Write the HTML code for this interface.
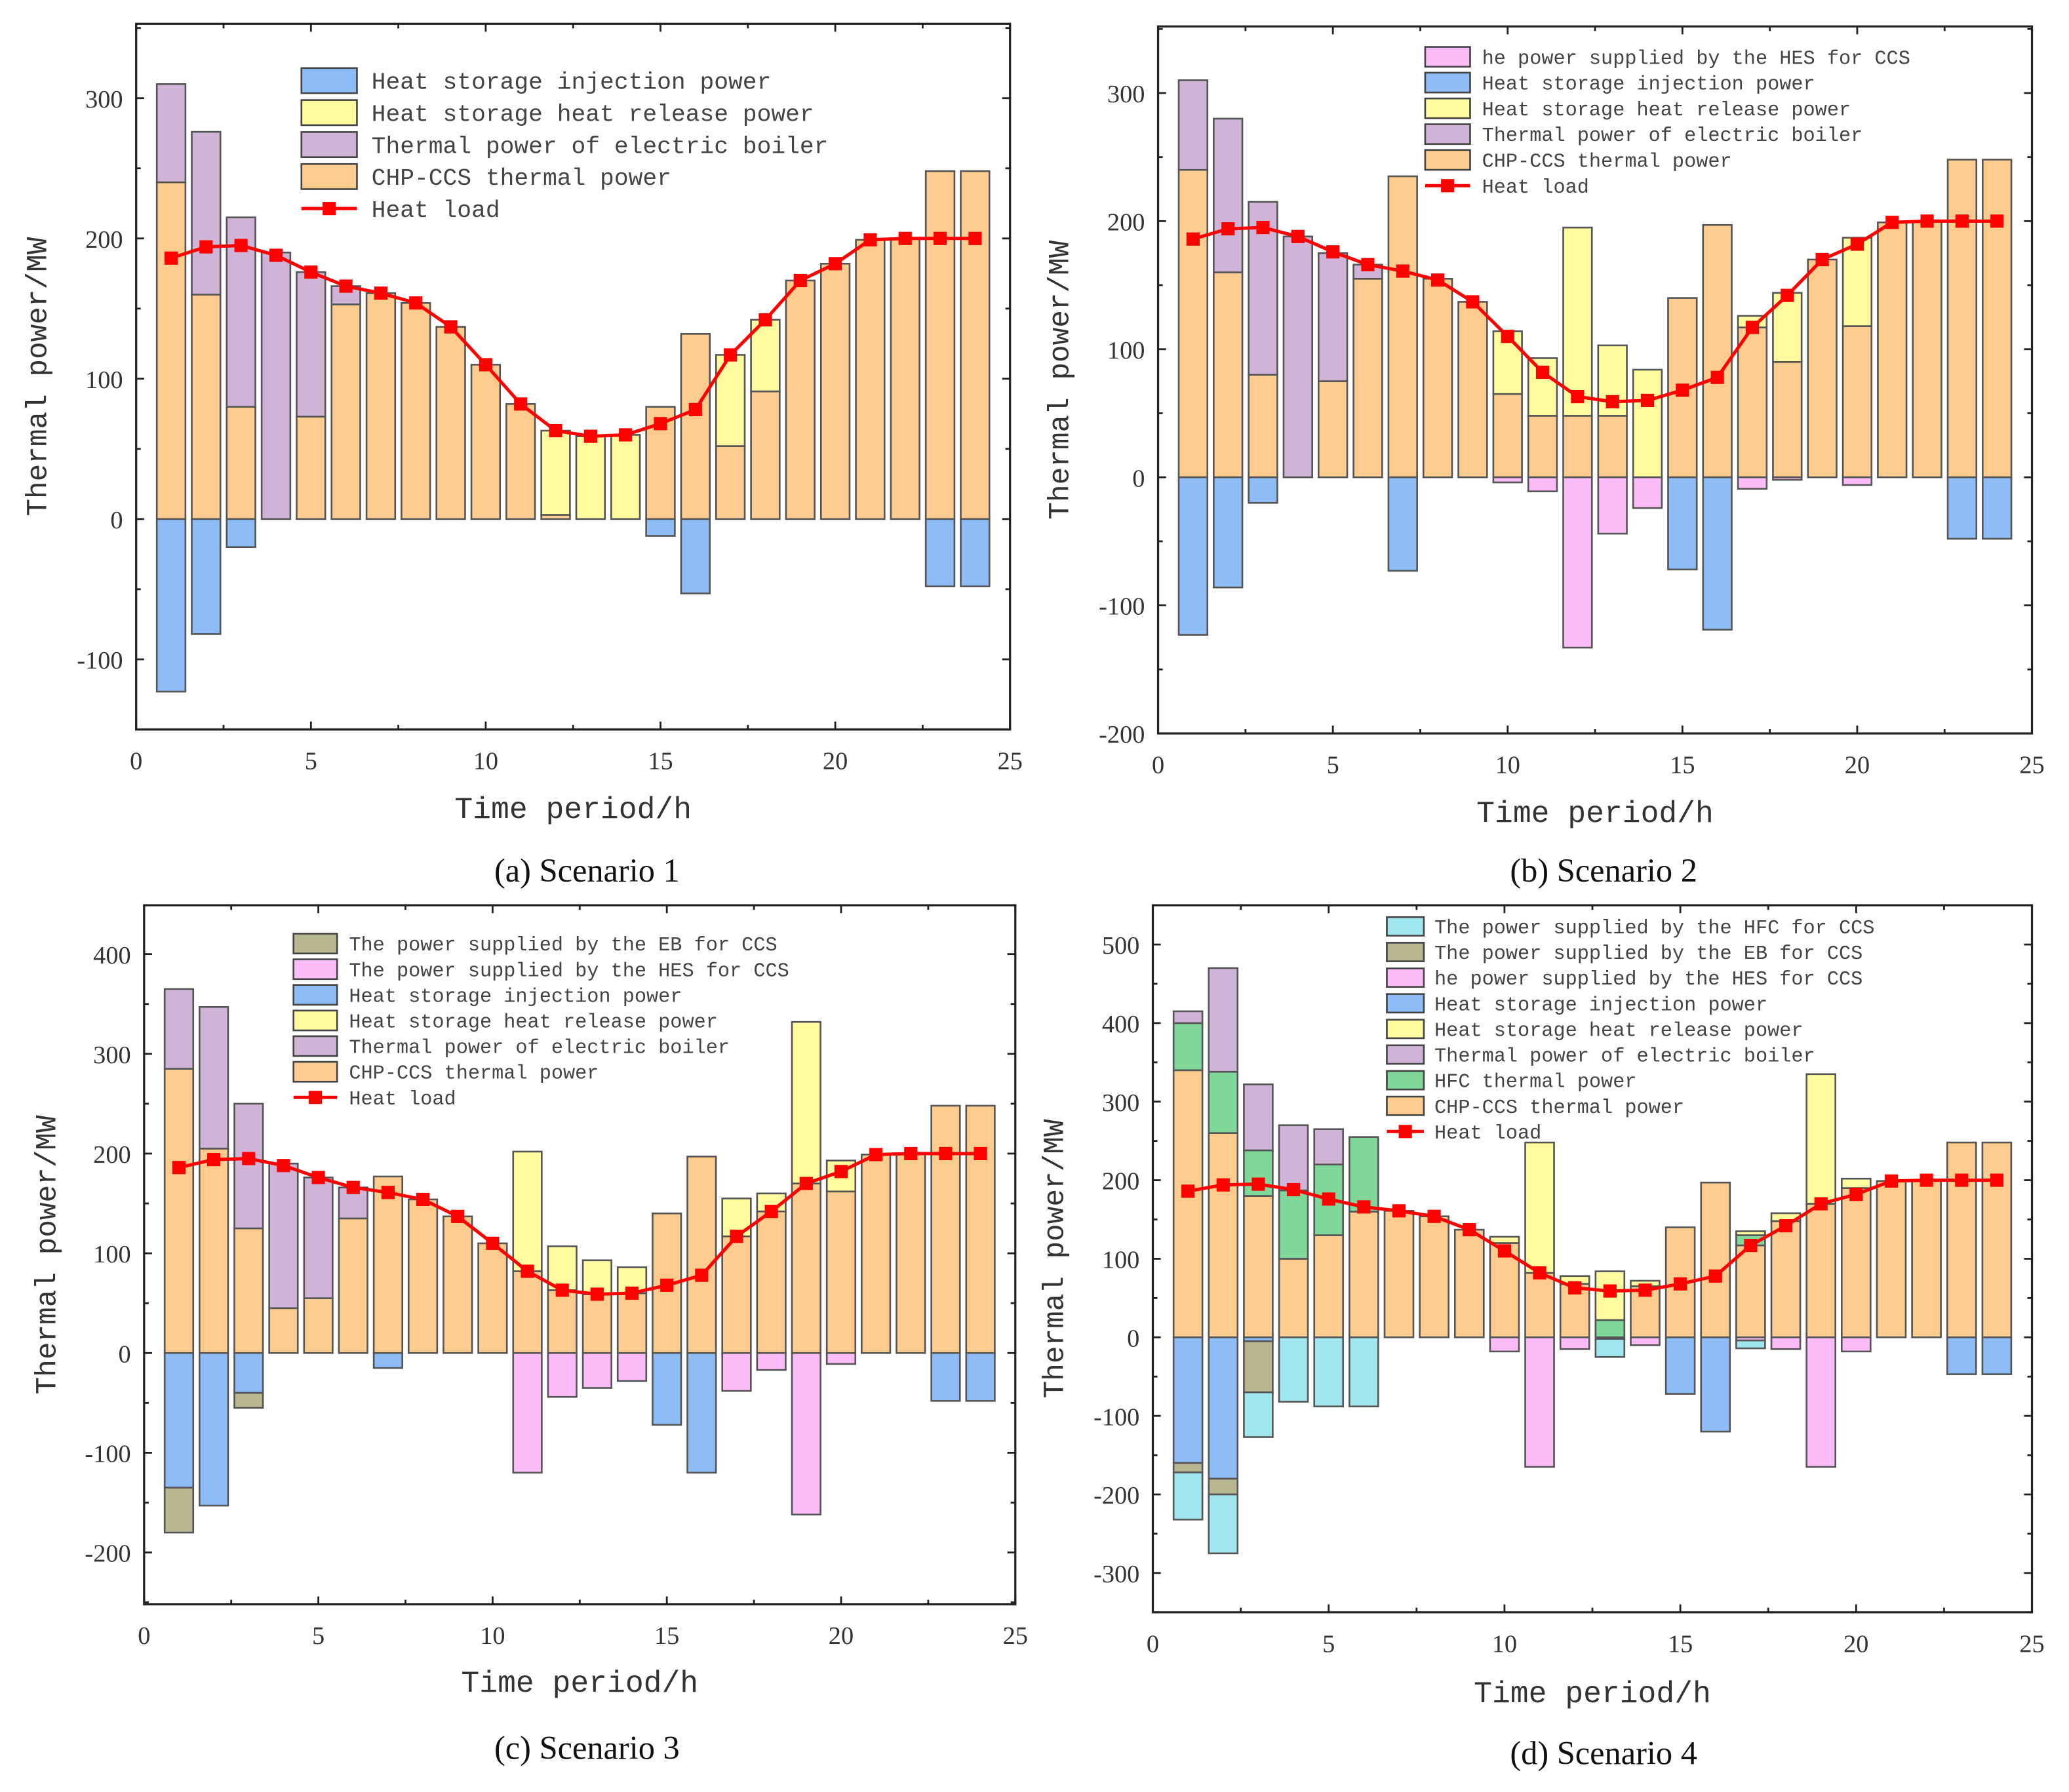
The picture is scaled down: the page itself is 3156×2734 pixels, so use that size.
<!DOCTYPE html>
<html><head><meta charset="utf-8">
<style>html,body{margin:0;padding:0;background:#fff}svg{display:block}</style>
</head><body>
<svg id="fig" xmlns="http://www.w3.org/2000/svg" width="3156" height="2734" viewBox="0 0 1565 1356" preserveAspectRatio="none"></svg>
<script>
// ---- data ----
const hours = [1,2,3,4,5,6,7,8,9,10,11,12,13,14,15,16,17,18,19,20,21,22,23,24];
const heatLoad = [186,194,195,188,176,166,161,154,137,110,82,63,59,60,68,78,117,142,170,182,199,200,200,200];
const xTicks = [0,5,10,15,20,25];

const s1_chp = [240,160,80,0,73,153,161,154,137,110,82,3,0,0,80,132,52,91,170,182,199,200,248,248];
const s1_eb  = [70,116,135,190,103,13,0,0,0,0,0,0,0,0,0,0,0,0,0,0,0,0,0,0];
const s1_rel = [0,0,0,0,0,0,0,0,0,0,0,60,59,60,0,0,65,51,0,0,0,0,0,0];
const s1_inj = [-123,-82,-20,0,0,0,0,0,0,0,0,0,0,0,-12,-53,0,0,0,0,0,0,-48,-48];
const s1_yTicks = [-100,0,100,200,300];

const s2_chp = [240,160,80,0,75,155,235,155,137,65,48,48,48,0,140,197,117,90,170,118,199,200,248,248];
const s2_eb  = [70,120,135,188,100,11,0,0,0,0,0,0,0,0,0,0,0,0,0,0,0,0,0,0];
const s2_rel = [0,0,0,0,0,0,0,0,0,49,45,147,55,84,0,0,9,54,0,69,0,0,0,0];
const s2_inj = [-123,-86,-20,0,0,0,-73,0,0,0,0,0,0,0,-72,-119,0,0,0,0,0,0,-48,-48];
const s2_hes = [0,0,0,0,0,0,0,0,0,-4,-11,-133,-44,-24,0,0,-9,-2,0,-6,0,0,0,0];
const s2_yTicks = [-200,-100,0,100,200,300];

const s3_chp = [285,205,125,45,55,135,177,154,137,110,82,63,59,60,140,197,117,142,170,162,199,200,248,248];
const s3_eb  = [80,142,125,145,121,31,0,0,0,0,0,0,0,0,0,0,0,0,0,0,0,0,0,0];
const s3_rel = [0,0,0,0,0,0,0,0,0,0,120,44,34,26,0,0,38,18,162,31,0,0,0,0];
const s3_inj = [-135,-153,-40,0,0,0,-15,0,0,0,0,0,0,0,-72,-120,0,0,0,0,0,0,-48,-48];
const s3_ebccs = [-45,0,-15,0,0,0,0,0,0,0,0,0,0,0,0,0,0,0,0,0,0,0,0,0];
const s3_hes = [0,0,0,0,0,0,0,0,0,0,-120,-44,-35,-28,0,0,-38,-17,-162,-11,0,0,0,0];
const s3_yTicks = [-200,-100,0,100,200,300,400];

const s4_chp = [340,260,180,100,130,160,161,154,137,120,82,68,0,65,140,197,117,148,170,190,199,200,248,248];
const s4_hfc = [60,78,58,87,90,95,0,0,0,0,0,0,22,0,0,0,13,0,0,0,0,0,0,0];
const s4_eb  = [15,132,84,83,45,0,0,0,0,0,0,0,0,0,0,0,0,0,0,0,0,0,0,0];
const s4_rel = [0,0,0,0,0,0,0,0,0,8,166,10,62,7,0,0,5,10,165,12,0,0,0,0];
const s4_inj = [-160,-180,-5,0,0,0,0,0,0,0,0,0,-2,0,-72,-120,0,0,0,0,0,0,-47,-47];
const s4_ebccs = [-12,-20,-65,0,0,0,0,0,0,0,0,0,0,0,0,0,0,0,0,0,0,0,0,0];
const s4_hes = [0,0,0,0,0,0,0,0,0,-18,-165,-15,0,-10,0,0,-4,-15,-165,-18,0,0,0,0];
const s4_hfcccs = [-60,-75,-57,-82,-88,-88,0,0,0,0,0,0,-23,0,0,0,-10,0,0,0,0,0,0,0];
const s4_yTicks = [-300,-200,-100,0,100,200,300,400,500];

// ---- styles ----
const C = {chp:'#FFCC8F', eb:'#D0B4D8', rel:'#FFFB9E', inj:'#8EBCF6', hes:'#FCBCF8', ebccs:'#B9B78F', hfc:'#7FD79A', hfcccs:'#A0E6EE'};
const NS='http://www.w3.org/2000/svg';
const svg=document.getElementById('fig');
function mk(tag,attrs,parent){const e=document.createElementNS(NS,tag);for(const k in attrs)e.setAttribute(k,attrs[k]);(parent||svg).appendChild(e);return e;}
function txt(s,attrs,parent){const e=mk('text',attrs,parent);e.textContent=s;return e;}

function panel(cfg){
  const g=mk('g',{});
  
  
  const X=v=>cfg.x0+(v/25)*(cfg.x1-cfg.x0);
  const Y=v=>cfg.yBot-(v-cfg.vmin)/(cfg.vmax-cfg.vmin)*(cfg.yBot-cfg.yTop);
  const bw=0.82*(cfg.x1-cfg.x0)/25;
  // bars
  hours.forEach((h,i)=>{
    let acc=0;
    cfg.pos.forEach(s=>{const v=s.data[i];if(v>0){
      const r=mk('rect',{x:X(h)-bw/2,y:Y(acc+v),width:bw,height:Y(acc)-Y(acc+v),fill:C[s.key],stroke:'#555','stroke-width':1.3},g);
      
      
      acc+=v;}});
    let nacc=0;
    cfg.neg.forEach(s=>{const v=s.data[i];if(v<0){
      const r=mk('rect',{x:X(h)-bw/2,y:Y(nacc),width:bw,height:Y(nacc+v)-Y(nacc),fill:C[s.key],stroke:'#555','stroke-width':1.3},g);
      
      
      nacc+=v;}});
  });
  // heat load line
  const pts=hours.map((h,i)=>X(h)+','+Y(heatLoad[i])).join(' ');
  const pl=mk('polyline',{points:pts,fill:'none',stroke:'#FF0000','stroke-width':2.5},g);
  
  
  hours.forEach((h,i)=>{
    const m=mk('rect',{x:X(h)-5,y:Y(heatLoad[i])-5,width:10,height:10,fill:'#FF0000'},g);
    
    
  });
  // frame
  const fr=mk('rect',{x:cfg.x0,y:cfg.yTop,width:cfg.x1-cfg.x0,height:cfg.yBot-cfg.yTop,fill:'none',stroke:'#222','stroke-width':1.6},g);
  
  
  // x ticks
  for(let v=0;v<=25;v+=2.5){
    const maj=(v%5===0),L=maj?6:3.5;
    mk('line',{x1:X(v),x2:X(v),y1:cfg.yBot,y2:cfg.yBot-L,stroke:'#222','stroke-width':1.4},g);
    mk('line',{x1:X(v),x2:X(v),y1:cfg.yTop,y2:cfg.yTop+L,stroke:'#222','stroke-width':1.4},g);
  }
  xTicks.forEach(v=>{
    const t=txt(String(v),{x:X(v),y:cfg.yBot+30,'font-size':19,'font-family':'"Liberation Serif",serif','text-anchor':'middle',fill:'#333'},g);
    
    
  });
  // y ticks
  const yt=cfg.yTicks;
  for(let v=yt[0]-50;v<=cfg.vmax;v+=50){
    if(v<cfg.vmin)continue;
    const maj=(v%100===0),L=maj?6:3.5;
    mk('line',{x1:cfg.x0,x2:cfg.x0+L,y1:Y(v),y2:Y(v),stroke:'#222','stroke-width':1.4},g);
    mk('line',{x1:cfg.x1,x2:cfg.x1-L,y1:Y(v),y2:Y(v),stroke:'#222','stroke-width':1.4},g);
  }
  yt.forEach(v=>{
    const t=txt(v<0?'-'+(-v):String(v),{x:cfg.x0-10,y:Y(v)+7,'font-size':19,'font-family':'"Liberation Serif",serif','text-anchor':'end',fill:'#333'},g);
    
    
  });
  // axis titles
  const xt=txt('Time period/h',{x:(cfg.x0+cfg.x1)/2,y:cfg.xtY,'font-size':23,'font-family':'"Liberation Mono",monospace','text-anchor':'middle',fill:'#333'},g);
  
  
  const ytl=txt('Thermal power/MW',{x:0,y:0,'font-size':22,'font-family':'"Liberation Mono",monospace','text-anchor':'middle',fill:'#333',transform:`translate(${cfg.ytX},${(cfg.yTop+cfg.yBot)/2}) rotate(-90)`},g);
  
  
  // legend
  const lg=mk('g',{},g);
  
  
  cfg.legend.forEach((e,i)=>{
    const cy=cfg.lg.y+i*cfg.lg.dy;
    if(e.key==='load'){
      mk('line',{x1:cfg.lg.x,x2:cfg.lg.x+cfg.lg.w,y1:cy,y2:cy,stroke:'#FF0000','stroke-width':2.5},lg);
      mk('rect',{x:cfg.lg.x+cfg.lg.w/2-5,y:cy-5,width:10,height:10,fill:'#FF0000'},lg);
    } else {
      mk('rect',{x:cfg.lg.x,y:cy-cfg.lg.h/2,width:cfg.lg.w,height:cfg.lg.h,fill:C[e.key],stroke:'#444','stroke-width':1.3},lg);
    }
    const t=txt(e.label,{x:cfg.lg.tx,y:cy+cfg.lg.fs*0.35,'font-size':cfg.lg.fs,'font-family':'"Liberation Mono",monospace',fill:'#444'},lg);
    
    
  });
  // caption
  const cp=txt(cfg.caption,{x:cfg.capX,y:cfg.capY,'font-size':25,'font-family':'"Liberation Serif",serif','text-anchor':'middle',fill:'#111'},g);
  
  
}

const L_inj={key:'inj',label:'Heat storage injection power'};
const L_rel={key:'rel',label:'Heat storage heat release power'};
const L_eb={key:'eb',label:'Thermal power of electric boiler'};
const L_chp={key:'chp',label:'CHP-CCS thermal power'};
const L_load={key:'load',label:'Heat load'};

panel({name:'chart-scenario-1',x0:103,x1:764,yTop:18,yBot:552,vmin:-150,vmax:353,yTicks:s1_yTicks,
  pos:[{key:'chp',data:s1_chp},{key:'eb',data:s1_eb},{key:'rel',data:s1_rel}],
  neg:[{key:'inj',data:s1_inj}],
  legend:[L_inj,L_rel,L_eb,L_chp,L_load],
  lg:{x:228,w:42,h:19,y:61,dy:24.2,tx:281,fs:18},
  xtY:619,ytX:35,caption:'(a) Scenario 1',capX:444,capY:667});

panel({name:'chart-scenario-2',x0:876,x1:1537,yTop:20,yBot:555,vmin:-200,vmax:352,yTicks:s2_yTicks,
  pos:[{key:'chp',data:s2_chp},{key:'eb',data:s2_eb},{key:'rel',data:s2_rel}],
  neg:[{key:'inj',data:s2_inj},{key:'hes',data:s2_hes}],
  legend:[{key:'hes',label:'he power supplied by the HES for CCS'},L_inj,L_rel,L_eb,L_chp,L_load],
  lg:{x:1078,w:34,h:15,y:43,dy:19.5,tx:1121,fs:15},
  xtY:622,ytX:808,caption:'(b) Scenario 2',capX:1213,capY:667});

panel({name:'chart-scenario-3',x0:109,x1:768,yTop:685,yBot:1214,vmin:-252,vmax:449,yTicks:s3_yTicks,
  pos:[{key:'chp',data:s3_chp},{key:'eb',data:s3_eb},{key:'rel',data:s3_rel}],
  neg:[{key:'inj',data:s3_inj},{key:'ebccs',data:s3_ebccs},{key:'hes',data:s3_hes}],
  legend:[{key:'ebccs',label:'The power supplied by the EB for CCS'},{key:'hes',label:'The power supplied by the HES for CCS'},L_inj,L_rel,L_eb,L_chp,L_load],
  lg:{x:222,w:33,h:15,y:714,dy:19.4,tx:264,fs:15},
  xtY:1280,ytX:42,caption:'(c) Scenario 3',capX:444,capY:1331});

panel({name:'chart-scenario-4',x0:872,x1:1537,yTop:685,yBot:1220,vmin:-350,vmax:550,yTicks:s4_yTicks,
  pos:[{key:'chp',data:s4_chp},{key:'hfc',data:s4_hfc},{key:'eb',data:s4_eb},{key:'rel',data:s4_rel}],
  neg:[{key:'inj',data:s4_inj},{key:'ebccs',data:s4_ebccs},{key:'hes',data:s4_hes},{key:'hfcccs',data:s4_hfcccs}],
  legend:[{key:'hfcccs',label:'The power supplied by the HFC for CCS'},{key:'ebccs',label:'The power supplied by the EB for CCS'},{key:'hes',label:'he power supplied by the HES for CCS'},L_inj,L_rel,L_eb,{key:'hfc',label:'HFC thermal power'},L_chp,L_load],
  lg:{x:1049,w:28,h:14,y:701,dy:19.4,tx:1085,fs:15},
  xtY:1288,ytX:804,caption:'(d) Scenario 4',capX:1213,capY:1335});
</script>
</body></html>
